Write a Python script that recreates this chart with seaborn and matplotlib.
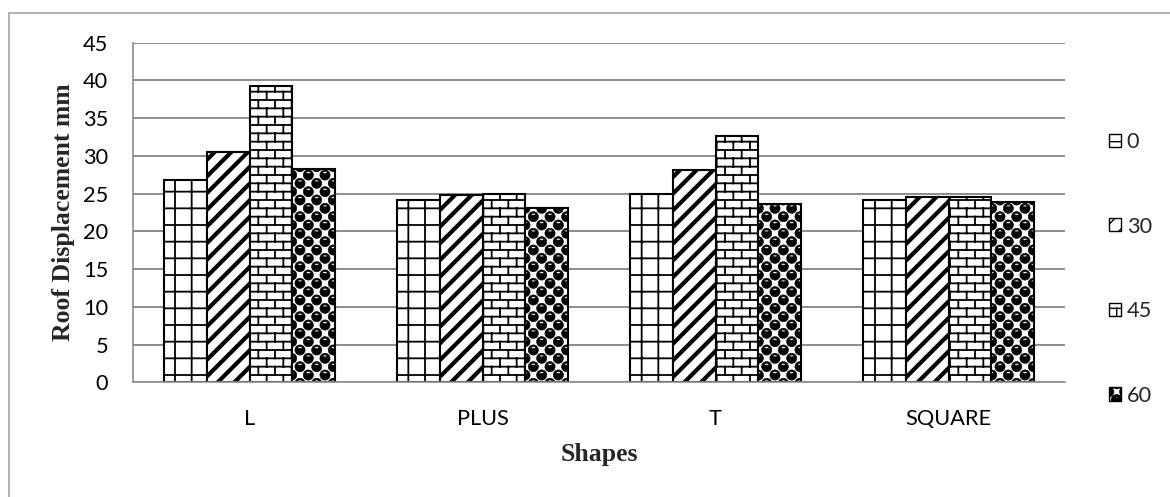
import numpy as np
import pandas as pd
import matplotlib
matplotlib.use("Agg")
import matplotlib.pyplot as plt
import matplotlib.hatch as mhatch
from matplotlib.path import Path
from matplotlib.patches import Patch, Rectangle
import seaborn as sns

# ---- data -------------------------------------------------------------
shapes = ["L", "PLUS", "T", "SQUARE"]
angles = ["0", "30", "45", "60"]
disp_0 = [26.8, 24.1, 24.9, 24.2]
disp_30 = [30.5, 24.8, 28.1, 24.6]
disp_45 = [39.2, 24.9, 32.7, 24.5]
disp_60 = [28.2, 23.1, 23.6, 23.9]
y_ticks = [0, 5, 10, 15, 20, 25, 30, 35, 40, 45]

series = {"0": disp_0, "30": disp_30, "45": disp_45, "60": disp_60}
df = pd.DataFrame(
    [(s, a, v) for a in angles for s, v in zip(shapes, series[a])],
    columns=["Shape", "Angle", "Displacement"],
)


# ---- custom fill patterns ---------------------------------------------
class BrickHatch(mhatch.HatchPatternBase):
    """Brick wall: courses of offset bricks (triggered by 'o')."""

    def __init__(self, hatch, density):
        k = hatch.count("o")
        self.cols = k * density
        self.rows = 2 * k * density
        if self.rows:
            self.num_vertices = 2 * (self.rows + 1) + 2 * self.rows * (self.cols + 1)
        else:
            self.num_vertices = 0

    def set_vertices_and_codes(self, vertices, codes):
        ys = np.linspace(0.0, 1.0, self.rows + 1)
        segs = [((0.0, y), (1.0, y)) for y in ys]
        for r in range(self.rows):
            shift = 0.5 / self.cols if r % 2 else 0.0
            for j in range(self.cols + 1):
                x = j / self.cols + shift
                segs.append(((x, ys[r]), (x, ys[r + 1])))
        vertices[:] = np.asarray(segs, float).reshape(-1, 2)
        codes[0::2] = Path.MOVETO
        codes[1::2] = Path.LINETO


class DotHatch(mhatch.HatchPatternBase):
    """Staggered solid dots with a small light notch (triggered by '*')."""

    radius = 0.051

    def __init__(self, hatch, density):
        self.n = hatch.count("*") * density
        circ = Path.unit_circle()
        outer_v = circ.vertices * self.radius
        inner_v = (circ.vertices * [0.022, 0.009])[::-1] + [0.0, 0.024]
        self.shape_v = np.concatenate([outer_v, inner_v])
        self.shape_c = np.concatenate([circ.codes, circ.codes])
        if self.n:
            count = sum((self.n + 1) if r % 2 == 0 else self.n
                        for r in range(2 * self.n + 1))
            self.num_vertices = count * len(self.shape_v)
        else:
            self.num_vertices = 0

    def set_vertices_and_codes(self, vertices, codes):
        pv, pc = [], []
        for r in range(2 * self.n + 1):
            y = r / (2 * self.n)
            if r % 2 == 0:
                xs = np.arange(self.n + 1) / self.n
            else:
                xs = (np.arange(self.n) + 0.5) / self.n
            for x in xs:
                pv.append(self.shape_v + [x, y])
                pc.append(self.shape_c)
        vertices[:] = np.concatenate(pv)
        codes[:] = np.concatenate(pc)


mhatch._hatch_types = [
    BrickHatch if t is mhatch.SmallCircles else
    DotHatch if t is mhatch.Stars else t
    for t in mhatch._hatch_types
]

hatch_styles = {
    "0": ("+", 1.3),
    "30": ("//", 3.0),
    "45": ("o", 1.3),
    "60": ("*", 0.4),
}

# ---- figure -----------------------------------------------------------
sns.set_style("white")
plt.rcParams["hatch.color"] = "black"
plt.rcParams["font.family"] = ["Lato", "DejaVu Sans"]

W, H = 1170, 497
fig = plt.figure(figsize=(W / 100, H / 100), dpi=100)
ax = fig.add_axes([133 / W, 1 - 382.3 / H, (1065 - 133) / W, (382.3 - 42.7) / H])

grey = "#8c8c8c"
sns.barplot(
    data=df, x="Shape", y="Displacement", hue="Angle",
    order=shapes, hue_order=angles,
    palette=["white"] * 4, saturation=1,
    edgecolor="black", linewidth=1.5,
    width=0.73, gap=0, legend=False, ax=ax,
)


def style_patch(p, key):
    h, lw = hatch_styles[key]
    p.set_hatch(h)
    if hasattr(p, "set_hatch_linewidth"):
        p.set_hatch_linewidth(lw)


for cont, key in zip(ax.containers, angles):
    for bar in cont:
        style_patch(bar, key)

ax.set_xlim(-0.5, len(shapes) - 0.5)
ax.set_ylim(0, 45)
ax.set_yticks(y_ticks)
ax.set_xticks(range(len(shapes)))
ax.set_xticklabels(shapes)
ax.set_xticks(np.arange(len(shapes) + 1) - 0.5, minor=True)

ax.set_axisbelow(True)
ax.grid(axis="y", color=grey, linewidth=1.4)
ax.grid(axis="x", visible=False)
for side in ("top", "right"):
    ax.spines[side].set_visible(False)
for side in ("left", "bottom"):
    ax.spines[side].set_color(grey)
    ax.spines[side].set_linewidth(1.2)

ax.tick_params(axis="y", length=5.8, width=1.2, color=grey, pad=12,
               labelsize=15.7, labelcolor="black")
ax.tick_params(axis="x", which="major", length=0, pad=19,
               labelsize=15.7, labelcolor="black")
ax.tick_params(axis="x", which="minor", length=5.8, width=1.2, color=grey)

label_font = dict(family="Liberation Serif", weight="bold", size=18.5)
ax.set_ylabel("Roof Displacement mm", **label_font)
ax.set_xlabel("Shapes", **label_font)
ax.yaxis.set_label_coords(-0.062, 0.5)
ax.xaxis.set_label_coords(0.5, -0.18)

handles = []
for key in angles:
    p = Patch(facecolor="white", edgecolor="black", linewidth=1.0)
    style_patch(p, key)
    handles.append(p)
fig.legend(
    handles, angles, loc="upper left",
    bbox_to_anchor=(1109 / W, 1 - 132 / H),
    frameon=False, borderpad=0, borderaxespad=0,
    handlelength=0.56, handleheight=0.56, handletextpad=0.25,
    labelspacing=2.96, fontsize=15.7,
)

# chart-area border
fig.patches.append(Rectangle(
    (9 / W, -0.05), 1.2, 1 - 13 / H + 0.05, transform=fig.transFigure,
    fill=False, edgecolor="#a6a6a6", linewidth=1.2, zorder=0,
))

fig.savefig("out.png", dpi=100)
